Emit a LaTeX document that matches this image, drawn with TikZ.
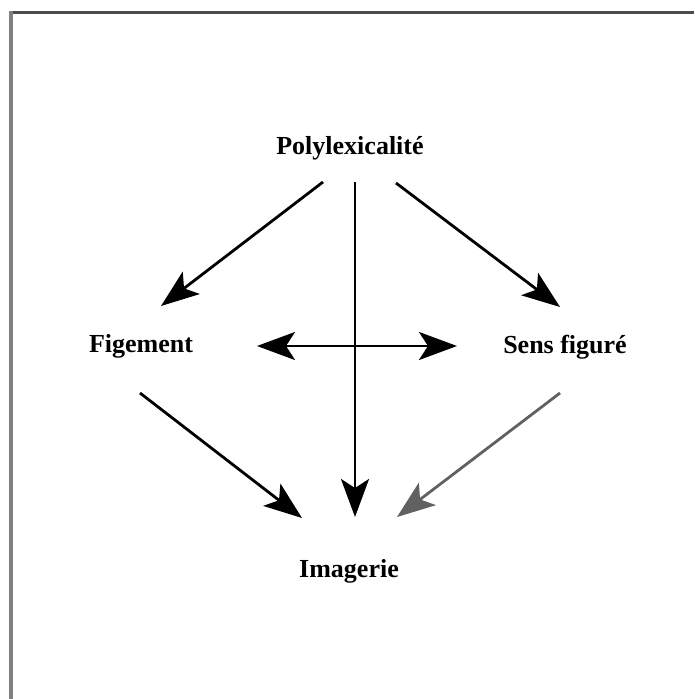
\documentclass[tikz,border=0pt]{standalone}
\usepackage{fontspec}
\setmainfont{Liberation Serif}
\usetikzlibrary{arrows.meta,calc}
\tikzset{
  lbl/.style={font=\bfseries\fontsize{26}{30}\selectfont, inner sep=0pt, anchor=base},
  arr/.style={line width=2.8pt, -{Stealth[length=38pt,width=28pt,inset=9pt]}},
  dblarr/.style={line width=2.8pt, {Stealth[length=38pt,width=28pt,inset=9pt]}-{Stealth[length=38pt,width=28pt,inset=9pt]}}
}

\begin{document}
\begin{tikzpicture}[x=1pt,y=-1pt]
				\useasboundingbox (0,0) rectangle (694,699);
				
				% frame
				\draw[line width=3pt, black!70] (9,12.5) -- (694,12.5);
				\draw[line width=4pt, black!50] (11,11) -- (11,699);
				
				\node[lbl] (poly) at (350,154) {Polylexicalité};
				\node[lbl] (fig) at (141,352) {Figement};
				\node[lbl] (sens) at (565,353) {Sens figuré};
				\node[lbl] (imag) at (349,577) {Imagerie};
				
				\draw[arr] ($(poly.base)+(-27,28)$) -- ($(fig.base)+(20,-46)$);
				\draw[arr] ($(poly.base)+(46,29)$) -- ($(sens.base)+(-5,-46)$);
				\draw[arr] ($(poly.base)+(5,28)$) -- ($(imag.base)+(6,-60)$);
				
				\draw[dblarr] ($(fig.base)+(116,-6)$) -- ($(sens.base)+(-108,-7)$);
				
				\draw[arr] ($(fig.base)+(-1,41)$) -- ($(imag.base)+(-47,-59)$);
				\draw[arr, black!62] ($(sens.base)+(-5,40)$) -- ($(imag.base)+(48,-60)$);
\end{tikzpicture}
\end{document}
